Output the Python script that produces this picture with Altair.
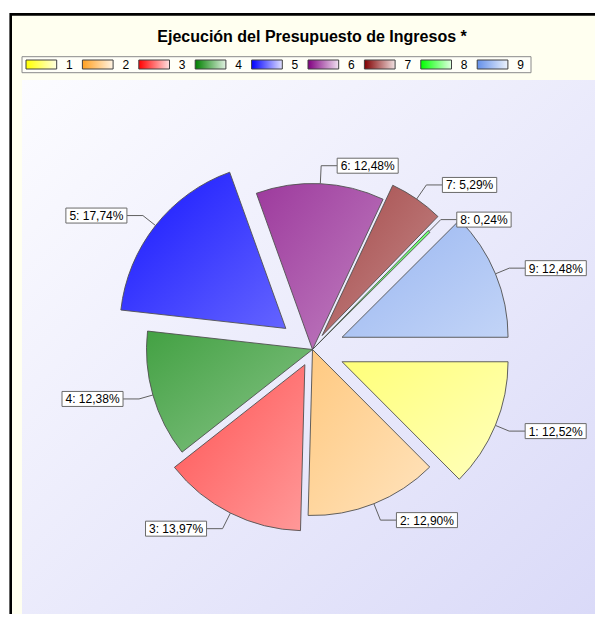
import math
import altair as alt
import pandas as pd

# ---------------- data ----------------
categories = ["1", "2", "3", "4", "5", "6", "7", "8", "9"]
values = [12.52, 12.90, 13.97, 12.38, 17.74, 12.48, 5.29, 0.24, 12.48]
title_text = "Ejecución del Presupuesto de Ingresos *"

# ---------------- styles ----------------
base_colors = ["#FFFF00", "#FFA020", "#FF0000", "#008000", "#0000FF",
               "#800080", "#800000", "#00FF00", "#6490EA"]
explode = [32, 0, 17, 0, 34, 0, 17, 0, 32]   # px each slice is pulled out

W, H = 587, 606
CX, CY, R = 304.5, 341.5, 166.0
FONT = "Liberation Sans"
CREAM = "#FFFFF0"


def mix(h, m):
    h = h.lstrip("#")
    r, g, b = (int(h[i:i + 2], 16) for i in (0, 2, 4))
    f = lambda c: int(round(c + (255 - c) * m))
    return "#%02X%02X%02X" % (f(r), f(g), f(b))


boxes = []
cum = 0.0
for v, e in zip(values, explode):
    a0 = cum / 100 * 2 * math.pi
    a1 = (cum + v) / 100 * 2 * math.pi
    am = (a0 + a1) / 2
    ax, ay = CX + e * math.cos(am), CY + e * math.sin(am)
    pts = [(ax, ay), (ax + R * math.cos(a0), ay + R * math.sin(a0)),
           (ax + R * math.cos(a1), ay + R * math.sin(a1))]
    for k in range(5):
        ak = k * math.pi / 2
        if a0 <= ak <= a1:
            pts.append((ax + R * math.cos(ak), ay + R * math.sin(ak)))
    xs = [p[0] for p in pts]
    ys = [p[1] for p in pts]
    boxes.append((min(xs), min(ys), max(xs), max(ys)))
    cum += v
gx0 = min(b[0] for b in boxes); gy0 = min(b[1] for b in boxes)
gx1 = max(b[2] for b in boxes); gy1 = max(b[3] for b in boxes)


def tmix(x, y):
    t = ((x - gx0) + (y - gy0)) / ((gx1 - gx0) + (gy1 - gy0))
    return 0.09 + 0.70 * t


def slice_grad(i):
    b = boxes[i]
    c = base_colors[i]
    return {"gradient": "linear", "x1": 0, "y1": 0, "x2": 1, "y2": 1,
            "stops": [{"offset": 0, "color": mix(c, tmix(b[0], b[1]))},
                      {"offset": 1, "color": mix(c, tmix(b[2], b[3]))}]}


def swatch_grad(i):
    c = base_colors[i]
    return {"gradient": "linear", "x1": 0, "y1": 0, "x2": 1, "y2": 0,
            "stops": [{"offset": 0, "color": mix(c, 0.0)},
                      {"offset": 1, "color": mix(c, 0.88)}]}


df = pd.DataFrame({"cat": categories, "value": values,
                   "idx": list(range(len(categories))), "explode": explode})

xs_ = alt.Scale(domain=[0, W], range=[0, W], nice=False, zero=False)
ys_ = alt.Scale(domain=[0, H], range=[0, H], nice=False, zero=False)
ts_ = alt.Scale(domain=[0, 100], range=[math.pi / 2, math.pi / 2 + 2 * math.pi])


def X(f):
    return alt.X(f, type="quantitative", scale=xs_, axis=None)


def Y(f):
    return alt.Y(f, type="quantitative", scale=ys_, axis=None)


base = (
    alt.Chart(df)
    .transform_window(cum="sum(value)", sort=[{"field": "idx"}])
    .transform_calculate(
        start="datum.cum - datum.value",
        ang="(datum.cum - datum.value / 2) / 100 * 2 * PI",
    )
    .transform_calculate(
        cxs=f"{CX} + datum.explode * cos(datum.ang)",
        cys=f"{CY} + datum.explode * sin(datum.ang)",
        side="cos(datum.ang) >= 0 ? 1 : -1",
        dl="13 + 5 * abs(sin(datum.ang))",
        label="datum.cat + ': ' + replace(format(datum.value, '.2f'), '.', ',') + '%'",
    )
    .transform_calculate(
        px=f"datum.cxs + {R} * cos(datum.ang)",
        py=f"datum.cys + {R} * sin(datum.ang)",
        ex=f"datum.cxs + ({R} + datum.dl) * cos(datum.ang)",
        ey=f"datum.cys + ({R} + datum.dl) * sin(datum.ang)",
        bw="6.67 * length(datum.label) + 1",
    )
    .transform_calculate(
        bx="datum.ex + datum.side * 16",
        by="datum.ey - 7.5",
        by2="datum.ey + 7.5",
    )
    .transform_calculate(
        bx2="datum.bx + datum.side * datum.bw",
    )
    .transform_calculate(
        tx="min(datum.bx, datum.bx2) + 3.5",
        lx="18 + datum.idx * 56.4",
    )
    .transform_calculate(
        lx2="datum.lx + 30.7",
        ltx="datum.lx + 40",
        ly="52",
        ly2="61",
        lty="56.8",
    )
)

one = alt.Chart(pd.DataFrame({"k": [0]}))

frame = one.mark_rect(fill=CREAM, stroke="#000000", strokeWidth=2.6).encode(
    x=alt.value(2.7), y=alt.value(6.4), x2=alt.value(W + 5), y2=alt.value(H + 5))

plot_bg = one.mark_rect(
    fill={"gradient": "linear", "x1": 0, "y1": 0, "x2": 1, "y2": 1,
          "stops": [{"offset": 0, "color": "#FCFCFF"},
                    {"offset": 1, "color": "#DADAF8"}]}
).encode(x=alt.value(14), y=alt.value(72), x2=alt.value(W), y2=alt.value(H))

title = one.mark_text(font=FONT, fontSize=16, fontWeight="bold", color="#000000",
                      align="center", baseline="alphabetic").encode(
    x=alt.value(304), y=alt.value(33.5), text=alt.value(title_text))

legend_box = one.mark_rect(fill="#FFFFF8", stroke="#8A8A8A", strokeWidth=1).encode(
    x=alt.value(14), y=alt.value(48.7), x2=alt.value(523), y2=alt.value(64.7))

layers = [frame, plot_bg, title, legend_box]

for i in range(len(categories)):
    sub = base.transform_filter(alt.datum.idx == i)
    layers.append(
        sub.mark_rect(fill=swatch_grad(i), stroke="#404040", strokeWidth=1).encode(
            x=X("lx"), x2="lx2", y=Y("ly"), y2="ly2"))

legend_text = base.mark_text(font=FONT, fontSize=12, color="#000000", align="left",
                             baseline="middle").encode(
    x=X("ltx"), y=Y("lty"), text="cat:N")
layers.append(legend_text)

for i in range(len(categories)):
    sub = base.transform_filter(alt.datum.idx == i)
    layers.append(
        sub.mark_arc(radius=R, fill=slice_grad(i), stroke="#505050", strokeWidth=0.9).encode(
            theta=alt.Theta("start:Q", scale=ts_, stack=None),
            theta2="cum:Q",
            x=X("cxs"), y=Y("cys")))

lead1 = base.mark_rule(color="#606060", strokeWidth=1).encode(
    x=X("px"), y=Y("py"), x2="ex", y2="ey")
lead2 = base.mark_rule(color="#606060", strokeWidth=1).encode(
    x=X("ex"), y=Y("ey"), x2="bx", y2="ey")
lbox = base.mark_rect(fill="#FFFFFF", stroke="#6A6A6A", strokeWidth=1).encode(
    x=X("bx"), x2="bx2", y=Y("by"), y2="by2")
ltext = base.mark_text(font=FONT, fontSize=12, color="#000000", align="left",
                       baseline="middle", dy=0.5).encode(
    x=X("tx"), y=Y("ey"), text="label:N")
layers += [lead1, lead2, lbox, ltext]

chart = (
    alt.layer(*layers)
    .properties(width=W, height=H, background="#FFFFFF",
                padding=0, autosize=alt.AutoSizeParams(type="none"))
    .configure_view(strokeWidth=0)
)

chart.save("out.html", embed_options={"renderer": "svg", "actions": False})
